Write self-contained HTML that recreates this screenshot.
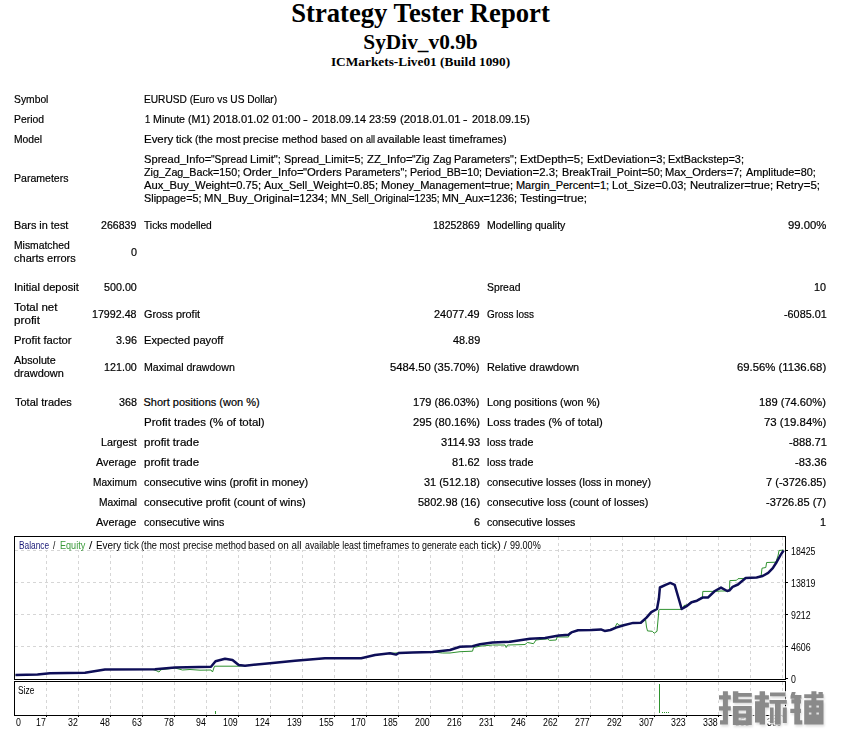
<!DOCTYPE html>
<html>
<head>
<meta charset="utf-8">
<title>Strategy Tester: SyDiv_v0.9b</title>
<style>
html,body{margin:0;padding:0;background:#fff;}
body{width:841px;height:733px;overflow:hidden;position:relative;font-family:"Liberation Sans",sans-serif;color:#000;}
.h1,.h2,.h3{position:absolute;left:0;width:841px;text-align:center;font-family:"Liberation Serif",serif;font-weight:bold;white-space:nowrap;}
.h1{top:-3px;font-size:26.67px;line-height:32px;}
.h2{top:29px;font-size:21.33px;line-height:26px;}
.h3{top:54px;font-size:13.33px;line-height:16px;}
.t{position:absolute;font-size:11px;line-height:13px;white-space:pre;transform-origin:0 0;-webkit-text-stroke:0.2px #000;}
.c{position:absolute;font-size:10px;line-height:11px;white-space:pre;transform-origin:0 0;}
svg{position:absolute;left:0;top:0;}
</style>
</head>
<body>
<div class="h1">Strategy Tester Report</div>
<div class="h2">SyDiv_v0.9b</div>
<div class="h3">ICMarkets-Live01 (Build 1090)</div>
<div class="t" style="left:14.30px;top:92.70px;transform:scaleX(0.9383)">Symbol</div>
<div class="t" style="left:14.30px;top:112.70px;transform:scaleX(0.9438)">Period</div>
<div class="t" style="left:14.30px;top:132.70px;transform:scaleX(0.9385)">Model</div>
<div class="t" style="left:14.30px;top:172.20px;transform:scaleX(0.9590)">Parameters</div>
<div class="t" style="left:14.30px;top:218.70px;transform:scaleX(0.9879)">Bars in test</div>
<div class="t" style="left:14.30px;top:238.70px;transform:scaleX(0.9412)">Mismatched</div>
<div class="t" style="left:14.30px;top:251.70px;transform:scaleX(1.0010)">charts errors</div>
<div class="t" style="left:14.09px;top:280.70px;transform:scaleX(1.0087)">Initial deposit</div>
<div class="t" style="left:14.30px;top:300.70px;transform:scaleX(1.0451)">Total net</div>
<div class="t" style="left:14.30px;top:313.70px;transform:scaleX(1.0615)">profit</div>
<div class="t" style="left:14.30px;top:333.70px;transform:scaleX(1.0234)">Profit factor</div>
<div class="t" style="left:14.30px;top:353.70px;transform:scaleX(0.9768)">Absolute</div>
<div class="t" style="left:14.30px;top:366.70px;transform:scaleX(0.9936)">drawdown</div>
<div class="t" style="left:14.70px;top:395.70px;transform:scaleX(0.9989)">Total trades</div>
<div class="t" style="left:101.20px;top:218.70px;transform:scaleX(0.9621)">266839</div>
<div class="t" style="left:130.52px;top:245.70px;transform:scaleX(0.9800)">0</div>
<div class="t" style="left:103.70px;top:280.70px;transform:scaleX(0.9753)">500.00</div>
<div class="t" style="left:92.00px;top:307.70px;transform:scaleX(0.9702)">17992.48</div>
<div class="t" style="left:115.50px;top:333.70px;transform:scaleX(0.9816)">3.96</div>
<div class="t" style="left:103.70px;top:360.70px;transform:scaleX(0.9753)">121.00</div>
<div class="t" style="left:118.53px;top:395.70px;transform:scaleX(0.9800)">368</div>
<div class="t" style="left:100.70px;top:435.70px;transform:scaleX(0.9745)">Largest</div>
<div class="t" style="left:96.20px;top:455.70px;transform:scaleX(0.9888)">Average</div>
<div class="t" style="left:92.50px;top:475.70px;transform:scaleX(0.9241)">Maximum</div>
<div class="t" style="left:98.70px;top:495.70px;transform:scaleX(0.9307)">Maximal</div>
<div class="t" style="left:96.20px;top:515.70px;transform:scaleX(0.9888)">Average</div>
<div class="t" style="left:143.70px;top:92.70px;transform:scaleX(0.9228)">EURUSD (Euro vs US Dollar)</div>
<div class="t" style="left:143.50px;top:218.70px;transform:scaleX(0.9295)">Ticks modelled</div>
<div class="t" style="left:143.50px;top:307.70px;transform:scaleX(0.9861)">Gross profit</div>
<div class="t" style="left:143.50px;top:333.70px;transform:scaleX(1.0072)">Expected payoff</div>
<div class="t" style="left:143.50px;top:360.70px;transform:scaleX(0.9646)">Maximal drawdown</div>
<div class="t" style="left:143.50px;top:395.70px;transform:scaleX(1.0000)">Short positions (won %)</div>
<div class="t" style="left:143.50px;top:415.70px;transform:scaleX(1.0446)">Profit trades (% of total)</div>
<div class="t" style="left:143.50px;top:435.70px;transform:scaleX(1.0483)">profit trade</div>
<div class="t" style="left:143.50px;top:455.70px;transform:scaleX(1.0483)">profit trade</div>
<div class="t" style="left:143.50px;top:475.70px;transform:scaleX(0.9908)">consecutive wins (profit in money)</div>
<div class="t" style="left:143.50px;top:495.70px;transform:scaleX(1.0093)">consecutive profit (count of wins)</div>
<div class="t" style="left:143.50px;top:515.70px;transform:scaleX(0.9647)">consecutive wins</div>
<div class="t" style="left:433.00px;top:218.70px;transform:scaleX(0.9545)">18252869</div>
<div class="t" style="left:434.20px;top:307.70px;transform:scaleX(0.9921)">24077.49</div>
<div class="t" style="left:452.50px;top:333.70px;transform:scaleX(0.9887)">48.89</div>
<div class="t" style="left:390.00px;top:360.70px;transform:scaleX(1.0243)">5484.50 (35.70%)</div>
<div class="t" style="left:413.20px;top:395.70px;transform:scaleX(1.0049)">179 (86.03%)</div>
<div class="t" style="left:412.50px;top:415.70px;transform:scaleX(1.0156)">295 (80.16%)</div>
<div class="t" style="left:440.50px;top:435.70px;transform:scaleX(1.0070)">3114.93</div>
<div class="t" style="left:452.00px;top:455.70px;transform:scaleX(1.0070)">81.62</div>
<div class="t" style="left:423.70px;top:475.70px;transform:scaleX(0.9928)">31 (512.18)</div>
<div class="t" style="left:417.50px;top:495.70px;transform:scaleX(0.9949)">5802.98 (16)</div>
<div class="t" style="left:473.52px;top:515.70px;transform:scaleX(0.9800)">6</div>
<div class="t" style="left:486.70px;top:218.70px;transform:scaleX(0.9559)">Modelling quality</div>
<div class="t" style="left:486.70px;top:280.70px;transform:scaleX(0.9419)">Spread</div>
<div class="t" style="left:486.70px;top:307.70px;transform:scaleX(0.9055)">Gross loss</div>
<div class="t" style="left:486.70px;top:360.70px;transform:scaleX(0.9912)">Relative drawdown</div>
<div class="t" style="left:486.70px;top:395.70px;transform:scaleX(0.9879)">Long positions (won %)</div>
<div class="t" style="left:486.70px;top:415.70px;transform:scaleX(1.0228)">Loss trades (% of total)</div>
<div class="t" style="left:486.70px;top:435.70px;transform:scaleX(0.9733)">loss trade</div>
<div class="t" style="left:486.70px;top:455.70px;transform:scaleX(0.9733)">loss trade</div>
<div class="t" style="left:486.70px;top:475.70px;transform:scaleX(0.9646)">consecutive losses (loss in money)</div>
<div class="t" style="left:486.70px;top:495.70px;transform:scaleX(0.9805)">consecutive loss (count of losses)</div>
<div class="t" style="left:486.70px;top:515.70px;transform:scaleX(0.9567)">consecutive losses</div>
<div class="t" style="left:788.00px;top:218.70px;transform:scaleX(1.0286)">99.00%</div>
<div class="t" style="left:814.32px;top:280.70px;transform:scaleX(0.9800)">10</div>
<div class="t" style="left:784.00px;top:307.70px;transform:scaleX(0.9837)">-6085.01</div>
<div class="t" style="left:737.00px;top:360.70px;transform:scaleX(1.0294)">69.56% (1136.68)</div>
<div class="t" style="left:759.30px;top:395.70px;transform:scaleX(1.0125)">189 (74.60%)</div>
<div class="t" style="left:764.00px;top:415.70px;transform:scaleX(1.0378)">73 (19.84%)</div>
<div class="t" style="left:788.70px;top:435.70px;transform:scaleX(1.0191)">-888.71</div>
<div class="t" style="left:795.00px;top:455.70px;transform:scaleX(1.0170)">-83.36</div>
<div class="t" style="left:766.00px;top:475.70px;transform:scaleX(1.0040)">7 (-3726.85)</div>
<div class="t" style="left:766.00px;top:495.70px;transform:scaleX(1.0040)">-3726.85 (7)</div>
<div class="t" style="left:820.12px;top:515.70px;transform:scaleX(0.9800)">1</div>
<div class="t" style="left:144.90px;top:112.70px;transform:scaleX(0.8502)">1 </div>
<div class="t" style="left:152.70px;top:112.70px;transform:scaleX(0.9703)">Minute </div>
<div class="t" style="left:187.70px;top:112.70px;transform:scaleX(0.9742)">(M1) </div>
<div class="t" style="left:212.70px;top:112.70px;transform:scaleX(1.0153)">2018.01.02 </div>
<div class="t" style="left:271.70px;top:112.70px;transform:scaleX(1.0365)">01:00 </div>
<div class="t" style="left:303.40px;top:112.70px;transform:scaleX(1.3097)">- </div>
<div class="t" style="left:312.20px;top:112.70px;transform:scaleX(0.9809)">2018.09.14 </div>
<div class="t" style="left:369.20px;top:112.70px;transform:scaleX(0.9973)">23:59 </div>
<div class="t" style="left:399.70px;top:112.70px;transform:scaleX(1.0312)">(2018.01.01 </div>
<div class="t" style="left:463.40px;top:112.70px;transform:scaleX(1.2353)">- </div>
<div class="t" style="left:471.70px;top:112.70px;transform:scaleX(0.9836)">2018.09.15)</div>
<div class="t" style="left:143.50px;top:132.70px;transform:scaleX(1.0393)">Every </div>
<div class="t" style="left:175.90px;top:132.70px;transform:scaleX(0.9869)">tick </div>
<div class="t" style="left:195.20px;top:132.70px;transform:scaleX(0.9404)">(the </div>
<div class="t" style="left:215.90px;top:132.70px;transform:scaleX(1.0226)">most </div>
<div class="t" style="left:243.40px;top:132.70px;transform:scaleX(1.0074)">precise </div>
<div class="t" style="left:282.20px;top:132.70px;transform:scaleX(0.9737)">method </div>
<div class="t" style="left:320.90px;top:132.70px;transform:scaleX(0.8720)">based </div>
<div class="t" style="left:349.70px;top:132.70px;transform:scaleX(1.0594)">on </div>
<div class="t" style="left:365.90px;top:132.70px;transform:scaleX(0.8036)">all </div>
<div class="t" style="left:377.20px;top:132.70px;transform:scaleX(0.9941)">available </div>
<div class="t" style="left:423.40px;top:132.70px;transform:scaleX(0.9813)">least </div>
<div class="t" style="left:449.20px;top:132.70px;transform:scaleX(0.9931)">timeframes)</div>
<div class="t" style="left:143.70px;top:152.70px;transform:scaleX(1.0127)">Spread_Info=</div>
<div class="t" style="left:210.90px;top:152.70px;transform:scaleX(0.9262)">"Spread </div>
<div class="t" style="left:250.20px;top:152.70px;transform:scaleX(1.0228)">Limit"; </div>
<div class="t" style="left:284.20px;top:152.70px;transform:scaleX(0.9884)">Spread_Limit=5; </div>
<div class="t" style="left:366.70px;top:152.70px;transform:scaleX(1.0264)">ZZ_Info=</div>
<div class="t" style="left:412.20px;top:152.70px;transform:scaleX(0.9217)">"Zig </div>
<div class="t" style="left:432.70px;top:152.70px;transform:scaleX(0.9768)">Zag </div>
<div class="t" style="left:454.20px;top:152.70px;transform:scaleX(0.9870)">Parameters"; </div>
<div class="t" style="left:520.20px;top:152.70px;transform:scaleX(1.0407)">ExtDepth=5; </div>
<div class="t" style="left:586.70px;top:152.70px;transform:scaleX(1.0161)">ExtDeviation=3; </div>
<div class="t" style="left:668.40px;top:152.70px;transform:scaleX(0.9898)">ExtBackstep=3;</div>
<div class="t" style="left:143.70px;top:165.70px;transform:scaleX(0.9743)">Zig_Zag_Back=150; </div>
<div class="t" style="left:242.90px;top:165.70px;transform:scaleX(1.0253)">Order_Info=</div>
<div class="t" style="left:303.40px;top:165.70px;transform:scaleX(1.0301)">"Orders </div>
<div class="t" style="left:345.20px;top:165.70px;transform:scaleX(0.9750)">Parameters"; </div>
<div class="t" style="left:410.40px;top:165.70px;transform:scaleX(0.9695)">Period_BB=10; </div>
<div class="t" style="left:485.40px;top:165.70px;transform:scaleX(1.0355)">Deviation=2.3; </div>
<div class="t" style="left:561.70px;top:165.70px;transform:scaleX(0.9813)">BreakTrail_Point=50; </div>
<div class="t" style="left:665.40px;top:165.70px;transform:scaleX(1.0143)">Max_Orders=7; </div>
<div class="t" style="left:745.70px;top:165.70px;transform:scaleX(0.9876)">Amplitude=80;</div>
<div class="t" style="left:143.70px;top:178.70px;transform:scaleX(1.0176)">Aux_Buy_Weight=0.75; </div>
<div class="t" style="left:263.90px;top:178.70px;transform:scaleX(0.9956)">Aux_Sell_Weight=0.85; </div>
<div class="t" style="left:380.90px;top:178.70px;transform:scaleX(1.0013)">Money_Management=true; </div>
<div class="t" style="left:515.90px;top:178.70px;transform:scaleX(1.0000)">Margin_Percent=1; </div>
<div class="t" style="left:612.20px;top:178.70px;transform:scaleX(1.0097)">Lot_Size=0.03; </div>
<div class="t" style="left:689.70px;top:178.70px;transform:scaleX(1.0192)">Neutralizer=true; </div>
<div class="t" style="left:776.00px;top:178.70px;transform:scaleX(1.0521)">Retry=5;</div>
<div class="t" style="left:143.70px;top:191.70px;transform:scaleX(0.9843)">Slippage=5; </div>
<div class="t" style="left:204.20px;top:191.70px;transform:scaleX(1.0283)">MN_Buy_Original=1234; </div>
<div class="t" style="left:330.90px;top:191.70px;transform:scaleX(0.9079)">MN_Sell_Original=1235; </div>
<div class="t" style="left:442.20px;top:191.70px;transform:scaleX(0.9850)">MN_Aux=1236; </div>
<div class="t" style="left:520.20px;top:191.70px;transform:scaleX(1.0564)">Testing=true;</div>
<svg width="841" height="733" viewBox="0 0 841 733">
<path d="M46.5 537V679M46.5 682V715M78.5 537V679M78.5 682V715M110.5 537V679M110.5 682V715M142.5 537V679M142.5 682V715M174.5 537V679M174.5 682V715M206.5 537V679M206.5 682V715M238.5 537V679M238.5 682V715M270.5 537V679M270.5 682V715M302.5 537V679M302.5 682V715M334.5 537V679M334.5 682V715M366.5 537V679M366.5 682V715M398.5 537V679M398.5 682V715M430.5 537V679M430.5 682V715M462.5 537V679M462.5 682V715M494.5 537V679M494.5 682V715M526.5 537V679M526.5 682V715M558.5 537V679M558.5 682V715M590.5 537V679M590.5 682V715M622.5 537V679M622.5 682V715M654.5 537V679M654.5 682V715M686.5 537V679M686.5 682V715M718.5 537V679M718.5 682V715M750.5 537V679M750.5 682V715M782.5 537V679M782.5 682V715M15 550.5H785M15 582.5H785M15 614.5H785M15 646.5H785" stroke="#d6d6d6" stroke-width="1" stroke-dasharray="3 3" fill="none" shape-rendering="crispEdges"/>
<rect x="15" y="537" width="528" height="13" fill="#fff"/>
<g stroke="#000" stroke-width="1" fill="none" shape-rendering="crispEdges">
<rect x="14.5" y="536.5" width="771" height="143"/>
<rect x="14.5" y="681.5" width="771" height="33.5"/>
<path d="M786 550.5H788M786 582.5H788M786 614.5H788M786 646.5H788M786 678.5H788M46.5 715V717M78.5 715V717M110.5 715V717M142.5 715V717M174.5 715V717M206.5 715V717M238.5 715V717M270.5 715V717M302.5 715V717M334.5 715V717M366.5 715V717M398.5 715V717M430.5 715V717M462.5 715V717M494.5 715V717M526.5 715V717M558.5 715V717M590.5 715V717M622.5 715V717M654.5 715V717M686.5 715V717M718.5 715V717M750.5 715V717M782.5 715V717"/>
</g>
<path d="M659.5 684V713M662 712.5h1M664 712.5h1M666 712.5h1M668 712.5h1M215.5 711v3" stroke="#2f922f" stroke-width="1" fill="none" shape-rendering="crispEdges"/>
<polyline points="15.5,675.0 37.5,674.5 50.0,673.2 85.0,672.7 105.0,669.5 153.0,669.5 156.0,670.5 159.0,672.0 161.0,669.7 175.0,668.0 182.5,670.0 190.0,669.5 200.0,670.2 211.0,670.0 212.5,672.0 214.5,666.2 238.7,666.2 245.0,665.7 270.0,663.2 295.0,660.7 325.0,658.2 361.2,658.2 375.0,655.0 390.0,653.2 412.5,652.5 432.5,652.0 442.5,653.0 450.0,653.0 460.0,651.7 472.5,651.2 473.6,647.5 480.0,646.2 492.5,645.0 505.0,645.0 506.2,647.5 507.5,645.0 525.0,644.5 527.5,642.5 533.5,643.7 536.0,640.0 540.0,639.5 547.6,638.9 549.5,640.4 556.2,640.0 557.1,637.0 568.5,637.0 569.5,632.8 578.0,630.5 600.9,629.6 604.7,631.2 610.4,630.2 615.2,627.0 617.0,623.3 619.0,625.2 623.7,625.2 633.2,622.9 640.8,622.7 645.6,619.8 646.5,627.0 647.5,630.9 652.3,631.3 654.2,633.2 657.0,631.3 658.9,610.0 659.5,609.4 681.7,609.4 684.0,605.5 687.5,604.8 690.3,602.3 697.0,600.3 702.5,596.8 702.8,591.4 714.8,591.4 721.0,591.0 729.5,591.0 729.8,580.6 736.5,580.3 738.0,578.7 745.7,578.3 756.6,577.5 761.2,575.5 762.0,568.2 765.8,567.5 766.6,562.5 775.9,562.2 778.2,555.1 779.0,550.5 783.6,550.1" fill="none" stroke="#2f922f" stroke-width="1"/>
<polyline points="15.5,675.0 37.5,674.5 50.0,673.2 85.0,672.7 105.0,669.5 155.0,669.2 175.0,667.5 211.0,666.7 215.5,661.2 225.0,658.7 232.5,660.0 238.7,665.0 245.0,665.7 270.0,663.2 295.0,660.7 325.0,658.2 361.2,658.2 375.0,655.0 390.0,653.2 396.0,654.6 399.0,653.0 412.5,652.5 432.5,652.0 450.0,650.0 460.0,646.7 472.5,646.2 480.0,644.2 492.5,642.5 510.0,641.7 530.0,638.7 545.0,638.0 559.0,635.6 568.5,634.7 571.4,632.4 578.0,630.3 591.4,630.0 600.9,629.4 604.7,630.9 610.4,630.0 616.1,627.6 623.7,625.2 633.2,622.9 640.8,622.7 646.5,617.6 651.3,612.2 657.0,609.0 658.9,598.5 659.9,587.5 665.6,584.8 670.3,582.9 674.7,584.8 681.7,609.0 686.2,606.4 691.6,602.2 697.0,600.7 702.5,597.6 707.9,597.6 714.8,591.0 721.0,587.6 727.2,591.0 729.5,590.3 732.6,586.8 738.0,584.5 745.7,578.0 756.6,577.5 762.7,576.0 768.2,572.9 772.8,568.2 776.7,562.0 780.5,555.1 783.6,550.5" fill="none" stroke="#0e0e58" stroke-width="2.5" stroke-linejoin="round"/>
</svg>
<div class="c" style="left:18.50px;top:539.53px;transform:scaleX(0.8339);color:#1a1a78">Balance</div>
<div class="c" style="left:53.10px;top:539.53px;transform:scaleX(0.8333)">/</div>
<div class="c" style="left:59.75px;top:539.53px;transform:scaleX(0.9085);color:#3a9a3a">Equity</div>
<div class="c" style="left:89.00px;top:539.53px;transform:scaleX(1.2058)">/ </div>
<div class="c" style="left:95.70px;top:539.53px;transform:scaleX(0.9909)">Every tick </div>
<div class="c" style="left:141.40px;top:539.53px;transform:scaleX(0.9290)">(the most </div>
<div class="c" style="left:182.70px;top:539.53px;transform:scaleX(0.9234)">precise method </div>
<div class="c" style="left:248.40px;top:539.53px;transform:scaleX(0.9910)">based on all </div>
<div class="c" style="left:304.60px;top:539.53px;transform:scaleX(0.8798)">available least </div>
<div class="c" style="left:362.80px;top:539.53px;transform:scaleX(0.9345)">timeframes to </div>
<div class="c" style="left:422.00px;top:539.53px;transform:scaleX(0.8843)">generate each </div>
<div class="c" style="left:481.00px;top:539.53px;transform:scaleX(1.0801)">tick) / </div>
<div class="c" style="left:509.80px;top:539.53px;transform:scaleX(0.9052)">99.00%</div>
<div class="c" style="left:18.30px;top:684.63px;transform:scaleX(0.8396)">Size</div>
<div class="c" style="left:791.00px;top:546.03px;transform:scaleX(0.8800)">18425</div>
<div class="c" style="left:791.00px;top:578.03px;transform:scaleX(0.8800)">13819</div>
<div class="c" style="left:791.00px;top:610.03px;transform:scaleX(0.8800)">9212</div>
<div class="c" style="left:791.00px;top:642.03px;transform:scaleX(0.8800)">4606</div>
<div class="c" style="left:791.00px;top:674.03px;transform:scaleX(0.8800)">0</div>
<div class="c" style="left:15.50px;top:717.33px;transform:scaleX(0.8800)">0</div>
<div class="c" style="left:36.13px;top:717.33px;transform:scaleX(0.8800)">17</div>
<div class="c" style="left:68.13px;top:717.33px;transform:scaleX(0.8800)">32</div>
<div class="c" style="left:100.13px;top:717.33px;transform:scaleX(0.8800)">48</div>
<div class="c" style="left:132.13px;top:717.33px;transform:scaleX(0.8800)">63</div>
<div class="c" style="left:164.13px;top:717.33px;transform:scaleX(0.8800)">78</div>
<div class="c" style="left:196.13px;top:717.33px;transform:scaleX(0.8800)">94</div>
<div class="c" style="left:223.23px;top:717.33px;transform:scaleX(0.8800)">109</div>
<div class="c" style="left:255.23px;top:717.33px;transform:scaleX(0.8800)">124</div>
<div class="c" style="left:287.23px;top:717.33px;transform:scaleX(0.8800)">139</div>
<div class="c" style="left:319.23px;top:717.33px;transform:scaleX(0.8800)">155</div>
<div class="c" style="left:351.23px;top:717.33px;transform:scaleX(0.8800)">170</div>
<div class="c" style="left:383.23px;top:717.33px;transform:scaleX(0.8800)">185</div>
<div class="c" style="left:415.23px;top:717.33px;transform:scaleX(0.8800)">200</div>
<div class="c" style="left:447.23px;top:717.33px;transform:scaleX(0.8800)">216</div>
<div class="c" style="left:479.23px;top:717.33px;transform:scaleX(0.8800)">231</div>
<div class="c" style="left:511.23px;top:717.33px;transform:scaleX(0.8800)">246</div>
<div class="c" style="left:543.23px;top:717.33px;transform:scaleX(0.8800)">262</div>
<div class="c" style="left:575.23px;top:717.33px;transform:scaleX(0.8800)">277</div>
<div class="c" style="left:607.23px;top:717.33px;transform:scaleX(0.8800)">292</div>
<div class="c" style="left:639.23px;top:717.33px;transform:scaleX(0.8800)">307</div>
<div class="c" style="left:671.23px;top:717.33px;transform:scaleX(0.8800)">323</div>
<div class="c" style="left:703.23px;top:717.33px;transform:scaleX(0.8800)">338</div>
<div class="c" style="left:735.23px;top:717.33px;transform:scaleX(0.8800)">353</div>
<div class="c" style="left:767.23px;top:717.33px;transform:scaleX(0.8800)">369</div>
<svg width="841" height="733" viewBox="0 0 841 733"><path d="M791.8 692.1L795.7 692.1L794.8 694.9L801.4 694.9L801.4 698.7L790.5 698.7L790.5 696.0ZM722.9 691.3H727.9V724.5H722.9ZM720.0 720.2H723.5V724.5H720.0ZM719.0 695.3H730.8V699.5H719.0ZM719.0 706.3H730.8V710.6H719.0ZM732.9 691.3H738.3V702.8H732.9ZM738.3 693.1H751.8V696.7H738.3ZM732.9 699.2H751.8V702.8H732.9ZM759.6 691.3H765.0V724.5H759.6ZM754.7 695.3H768.9V699.5H754.7ZM755.0 701.3H759.6V722.4H755.0ZM765.0 702.4H768.9V707.4H765.0ZM770.0 692.4H785.3V696.3H770.0ZM769.5 699.9H786.8V703.8H769.5ZM775.0 703.8H780.7V724.5H775.0ZM770.0 707.4H773.6V723.0H770.0ZM782.8 707.4H786.8V723.0H782.8ZM791.4 699.2H801.0V703.5H791.4ZM790.3 708.8H801.0V713.1H790.3ZM794.3 698.0H800.0V724.5H794.3ZM800.0 720.2H802.3V724.5H800.0ZM804.2 694.2H823.5V698.1H804.2ZM811.4 691.3H816.4V700.5H811.4ZM818.5 692.0H822.8V695.3H818.5ZM732.9 706.0H751.8V724.9H732.9ZM738.6 710.6V713.5H746.1V710.6ZM738.6 717.7V720.2H746.1V717.7ZM804.2 700.3H823.5V724.5H804.2ZM808.9 705.6V707.6H811.4V705.6ZM816.4 705.6V707.6H818.9V705.6ZM808.9 712.4V714.6H811.4V712.4ZM816.4 712.4V714.6H818.9V712.4Z" fill="#fff" stroke="#fff" stroke-width="2.6" stroke-opacity="0.8" stroke-linejoin="round"/><path d="M791.8 692.1L795.7 692.1L794.8 694.9L801.4 694.9L801.4 698.7L790.5 698.7L790.5 696.0ZM722.9 691.3H727.9V724.5H722.9ZM720.0 720.2H723.5V724.5H720.0ZM719.0 695.3H730.8V699.5H719.0ZM719.0 706.3H730.8V710.6H719.0ZM732.9 691.3H738.3V702.8H732.9ZM738.3 693.1H751.8V696.7H738.3ZM732.9 699.2H751.8V702.8H732.9ZM759.6 691.3H765.0V724.5H759.6ZM754.7 695.3H768.9V699.5H754.7ZM755.0 701.3H759.6V722.4H755.0ZM765.0 702.4H768.9V707.4H765.0ZM770.0 692.4H785.3V696.3H770.0ZM769.5 699.9H786.8V703.8H769.5ZM775.0 703.8H780.7V724.5H775.0ZM770.0 707.4H773.6V723.0H770.0ZM782.8 707.4H786.8V723.0H782.8ZM791.4 699.2H801.0V703.5H791.4ZM790.3 708.8H801.0V713.1H790.3ZM794.3 698.0H800.0V724.5H794.3ZM800.0 720.2H802.3V724.5H800.0ZM804.2 694.2H823.5V698.1H804.2ZM811.4 691.3H816.4V700.5H811.4ZM818.5 692.0H822.8V695.3H818.5ZM732.9 706.0H751.8V724.9H732.9ZM738.6 710.6V713.5H746.1V710.6ZM738.6 717.7V720.2H746.1V717.7ZM804.2 700.3H823.5V724.5H804.2ZM808.9 705.6V707.6H811.4V705.6ZM816.4 705.6V707.6H818.9V705.6ZM808.9 712.4V714.6H811.4V712.4ZM816.4 712.4V714.6H818.9V712.4Z" fill="#8a8a8a" style="filter:drop-shadow(1.5px 2px 1.2px rgba(0,0,0,0.13))"/></svg>
</body>
</html>
